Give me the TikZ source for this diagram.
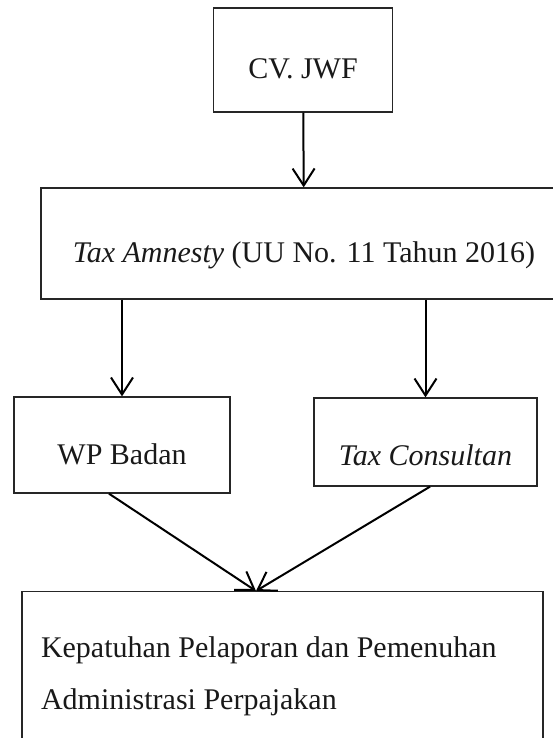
\documentclass[tikz,border=0pt]{standalone}
\usepackage{fontspec}
\setmainfont{Liberation Serif}
\usetikzlibrary{positioning, arrows.meta}

\begin{document}
\begin{tikzpicture}[x=1pt, y=-1pt,
        every node/.style={rectangle, draw=black!85, line width=1.3pt, inner sep=0pt, text=black!90, font=\fontsize{30pt}{52pt}\selectfont},
        box/.style={text height=38pt, text depth=0pt},
        link/.style={-{Straight Barb[length=17pt, width=22pt]}, line width=2pt}]
        \useasboundingbox (0,0) rectangle (552,738);

        \node[box, minimum width=179pt, minimum height=104pt] (jwf) at (303,60) {CV. JWF};
        \node[box, minimum width=526pt, minimum height=111pt] (amnesty) at (304,243.5) {\textit{Tax Amnesty} (UU No. 11 Tahun 2016)};

        \node[box, minimum width=216pt, minimum height=96pt] (wp) at (122,445) {WP Badan};
        \node[box, text height=46pt, minimum width=223pt, minimum height=88pt] (consultan) at (425.5,442) {\textit{Tax Consultan}\hspace{8pt}};

        \node[minimum width=521pt, minimum height=170pt, text width=483pt, align=flush left, inner xsep=19pt, anchor=north] (kepatuhan) at (282.5,591) {Kepatuhan Pelaporan dan Pemenuhan\\Administrasi Perpajakan};

        \coordinate (meet) at (256,591);

        % Down
        \draw[link] (jwf) -- (amnesty);
        \draw[link] (amnesty.south -| wp) -- (wp);
        \draw[link] (amnesty.south -| consultan) -- (consultan);

        % Merge
        \draw[link] ([xshift=-13pt]wp.south) -- (meet);
        \draw[link] ([xshift=4.5pt]consultan.south) -- (meet);
    \end{tikzpicture}
\end{document}
